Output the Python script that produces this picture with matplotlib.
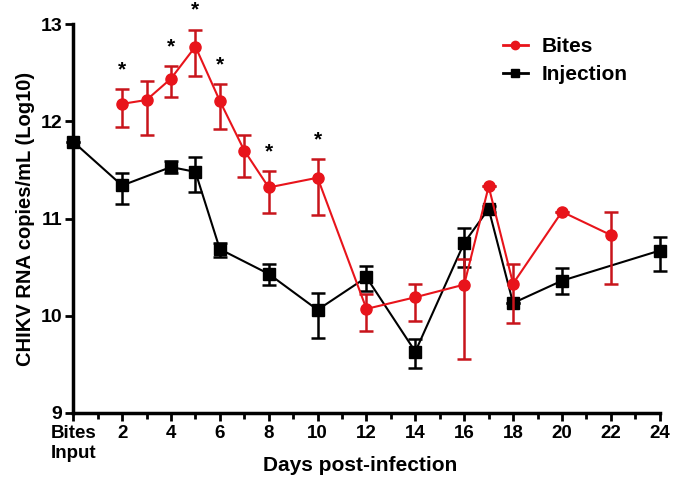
import matplotlib.pyplot as plt
from matplotlib.ticker import MultipleLocator
from matplotlib.lines import Line2D

plt.rcParams['font.family'] = ['Liberation Sans', 'DejaVu Sans']
plt.rcParams['font.weight'] = 'bold'

# Bites series
bx = [2, 3, 4, 5, 6, 7, 8, 10, 12, 14, 16, 17, 18, 20, 22]
by = [12.18, 12.22, 12.44, 12.77, 12.21, 11.70, 11.32, 11.42, 10.07, 10.19, 10.32, 11.33, 10.33, 11.07, 10.83]
b_up = [12.33, 12.42, 12.565, 12.945, 12.38, 11.86, 11.49, 11.615, 10.22, 10.33, 10.58, 11.33, 10.53, 11.07, 11.065]
b_lo = [11.945, 11.86, 12.25, 12.47, 11.925, 11.43, 11.06, 11.04, 9.84, 9.95, 9.553, 11.33, 9.92, 11.07, 10.33]

# Injection series
ix = [0, 2, 4, 5, 6, 8, 10, 12, 14, 16, 17, 18, 20, 24]
iy = [11.79, 11.34, 11.53, 11.48, 10.685, 10.43, 10.06, 10.395, 9.63, 10.75, 11.10, 10.13, 10.36, 10.67]
i_up = [11.79, 11.47, 11.59, 11.63, 10.75, 10.53, 10.234, 10.515, 9.756, 10.90, 11.13, 10.13, 10.49, 10.81]
i_lo = [11.79, 11.15, 11.47, 11.27, 10.60, 10.32, 9.77, 10.25, 9.457, 10.505, 11.07, 10.13, 10.22, 10.457]

star_days = [2, 4, 5, 6, 8, 10]

xticks = [0, 2, 4, 6, 8, 10, 12, 14, 16, 18, 20, 22, 24]
xlabels = ['Bites\nInput', '2', '4', '6', '8', '10', '12', '14', '16', '18', '20', '22', '24']

fig = plt.figure(figsize=(6.78, 4.84), dpi=100)
ax = fig.add_axes([0.108, 0.147, 0.865, 0.803])

red = '#e8141b'
ax.errorbar(ix, iy,
            yerr=[[y - l for y, l in zip(iy, i_lo)], [u - y for y, u in zip(iy, i_up)]],
            color='black', marker='s', markersize=8, linewidth=1.5,
            elinewidth=1.8, capsize=5, capthick=1.8, clip_on=False, zorder=3)
ax.errorbar(bx, by,
            yerr=[[y - l for y, l in zip(by, b_lo)], [u - y for y, u in zip(by, b_up)]],
            color=red, ecolor='#c8141b', marker='o', markersize=8, linewidth=1.5,
            elinewidth=1.8, capsize=5, capthick=1.8, clip_on=False, zorder=4)

for d in star_days:
    k = bx.index(d)
    ax.text(d, b_up[k] + 0.1, '*', ha='center', va='bottom', fontsize=15, fontweight='bold')

ax.set_xlim(0, 24)
ax.set_ylim(9, 13)
ax.set_xticks(xticks)
ax.set_xticklabels(xlabels, fontsize=13.5, fontweight='bold')
ax.xaxis.set_minor_locator(MultipleLocator(1))
ax.set_yticks([9, 10, 11, 12, 13])
ax.tick_params(axis='y', labelsize=14, width=2, length=6, pad=2)
ax.tick_params(axis='x', which='major', width=2, length=6, pad=3)
ax.tick_params(axis='x', which='minor', width=2, length=4)
for lab in ax.get_yticklabels():
    lab.set_fontweight('bold')
ax.get_xticklabels()[0].set_horizontalalignment('center')

for s in ['top', 'right']:
    ax.spines[s].set_visible(False)
for s in ['left', 'bottom']:
    ax.spines[s].set_linewidth(2.5)

ax.set_xlabel('Days post-infection', fontsize=15, fontweight='bold')
ax.xaxis.set_label_coords(0.49, -0.112)
ax.set_ylabel('CHIKV RNA copies/mL (Log10)', fontsize=14.5, fontweight='bold')

handles = [Line2D([], [], color=red, marker='o', markersize=6, linewidth=2),
           Line2D([], [], color='black', marker='s', markersize=6, linewidth=2)]
ax.legend(handles, ['Bites', 'Injection'], loc='upper left', bbox_to_anchor=(0.7, 1.015),
          frameon=False, handlelength=1.2, handletextpad=0.7, labelspacing=0.45,
          prop={'weight': 'bold', 'size': 15})

fig.savefig('out.png', dpi=100)
